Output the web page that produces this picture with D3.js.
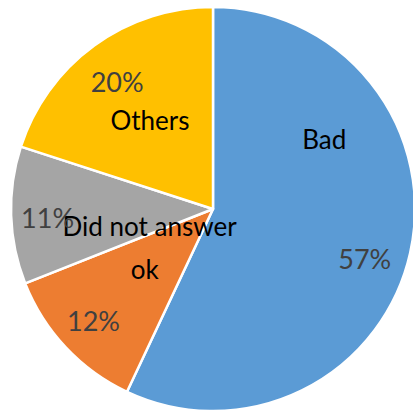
<!DOCTYPE html>
<html>
<head>
<meta charset="utf-8">
<script src="https://cdn.jsdelivr.net/npm/d3@7/dist/d3.min.js"></script>
<style>
  html, body { margin: 0; padding: 0; background: #fff; }
  svg { display: block; }
</style>
</head>
<body>
<svg id="chart" width="413" height="415"></svg>
<script>
// ---- data ----
const categories = ["Bad", "ok", "Did not answer", "Others"];
const values = [57, 12, 11, 20];
const colors = ["#5B9BD5", "#ED7D31", "#A5A5A5", "#FFC000"];

// ---- label layout (polar: angle in degrees clockwise from top, radius fraction) ----
const pctLabelAngle = [108, 226.9, 266.9, 323.1];
const pctLabelRadius = [0.79, 0.81, 0.82, 0.79];
const catLabelAngle = [57.9, 228.8, 255.0, 324.7];
const catLabelRadius = [0.65, 0.45, 0.325, 0.54];

const W = 413, H = 415;
const cx = 213, cy = 209, R = 202;

const svg = d3.select("#chart");
const g = svg.append("g").attr("transform", `translate(${cx},${cy})`);

const dataRows = categories.map((c, i) => ({ cat: c, value: values[i], i }));
const pie = d3.pie().value(d => d.value).sort(null);
const arc = d3.arc().innerRadius(0).outerRadius(R);
const color = d3.scaleOrdinal().domain(categories).range(colors);

const arcs = pie(dataRows);

g.selectAll("path.slice")
  .data(arcs)
  .join("path")
  .attr("class", "slice")
  .attr("d", arc)
  .attr("fill", d => color(d.data.cat))
  .attr("stroke", "#fff")
  .attr("stroke-width", 2.5)
  .attr("stroke-linejoin", "round");

const total = d3.sum(values);
const fmt = v => Math.round(v / total * 100) + "%";

function polar(angDeg, frac) {
  const a = angDeg * Math.PI / 180;
  return [Math.sin(a) * R * frac, -Math.cos(a) * R * frac];
}

g.selectAll("text.cat")
  .data(arcs)
  .join("text")
  .attr("class", "cat")
  .attr("transform", d => {
    const [x, y] = polar(catLabelAngle[d.data.i], catLabelRadius[d.data.i]);
    return `translate(${x},${y})`;
  })
  .attr("text-anchor", "middle")
  .attr("dominant-baseline", "central")
  .attr("font-family", "Lato, 'Open Sans', sans-serif")
  .attr("font-size", 26)
  .attr("fill", "#000")
  .text(d => d.data.cat);

g.selectAll("text.pct")
  .data(arcs)
  .join("text")
  .attr("class", "pct")
  .attr("transform", d => {
    const [x, y] = polar(pctLabelAngle[d.data.i], pctLabelRadius[d.data.i]);
    return `translate(${x},${y})`;
  })
  .attr("text-anchor", "middle")
  .attr("dominant-baseline", "central")
  .attr("font-family", "Lato, 'Open Sans', sans-serif")
  .attr("font-size", 27)
  .attr("fill", "#404040")
  .text(d => fmt(d.data.value));
</script>
</body>
</html>
